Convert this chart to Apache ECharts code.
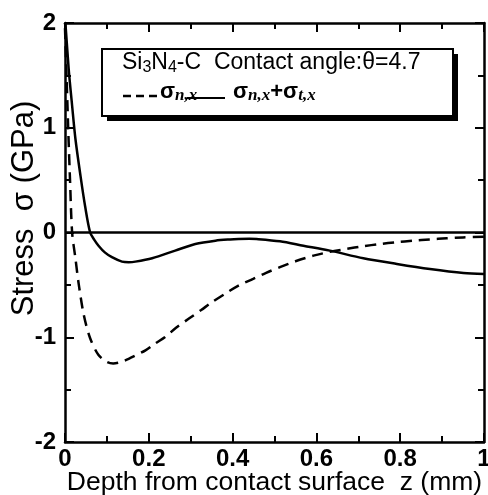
<!DOCTYPE html>
<html>
<head>
<meta charset="utf-8">
<script src="https://cdn.jsdelivr.net/npm/echarts@6/dist/echarts.min.js"></script>
<style>
html,body{margin:0;padding:0;background:#fff;}
#chart{width:488px;height:495px;}
</style>
</head>
<body>
<div id="chart"></div>
<script>
// depth z (mm) and sigma_n,x (GPa) - dashed curve
const zDash = [0.0, 0.004, 0.008, 0.012, 0.017, 0.025, 0.033, 0.045, 0.06, 0.08, 0.1, 0.115, 0.13, 0.144, 0.165, 0.192, 0.215, 0.239, 0.265, 0.295, 0.325, 0.351, 0.38, 0.414, 0.449, 0.48, 0.513, 0.55, 0.593, 0.632, 0.672, 0.71, 0.752, 0.79, 0.831, 0.87, 0.911, 0.95, 1.0];
const sigmaN = [1.95, 1.45, 0.95, 0.5, 0.0, -0.25, -0.5, -0.79, -1.01, -1.17, -1.235, -1.25, -1.24, -1.22, -1.18, -1.125, -1.06, -0.998, -0.91, -0.824, -0.74, -0.665, -0.59, -0.507, -0.443, -0.385, -0.331, -0.275, -0.221, -0.185, -0.157, -0.132, -0.11, -0.093, -0.078, -0.066, -0.056, -0.047, -0.04];
// depth z (mm) and sigma_n,x + sigma_t,x (GPa) - solid curve
const zSolid = [0.0, 0.002, 0.009, 0.017, 0.025, 0.037, 0.048, 0.06, 0.07, 0.08, 0.095, 0.112, 0.136, 0.152, 0.168, 0.208, 0.263, 0.311, 0.359, 0.394, 0.414, 0.44, 0.457, 0.513, 0.569, 0.632, 0.712, 0.792, 0.871, 0.951, 1.0];
const sigmaSum = [2.0, 1.94, 1.55, 1.21, 0.89, 0.54, 0.25, 0.0, -0.07, -0.126, -0.19, -0.236, -0.278, -0.283, -0.278, -0.246, -0.173, -0.11, -0.078, -0.066, -0.062, -0.06, -0.062, -0.084, -0.126, -0.173, -0.246, -0.3, -0.348, -0.386, -0.395];
const xTicks = [0, 0.2, 0.4, 0.6, 0.8, 1];
const yTicks = [-2, -1, 0, 1, 2];
const titleText = 'Si{sub|3}N{sub|4}-C  Contact angle:θ=4.7';
const legendText1 = '{s|σ}{sub|n,x}';
const legendText2 = '{s|σ}{sub|n,x}{s|+σ}{sub|t,x}';

const chart = echarts.init(document.getElementById('chart'));
const axisCommon = {
  axisLine: {show: true, onZero: false, lineStyle: {color: '#000', width: 2.5}},
  axisTick: {show: true, inside: true, length: 9, lineStyle: {color: '#000', width: 2}},
  minorTick: {show: true, splitNumber: 2, length: 6, lineStyle: {color: '#000', width: 2}},
  splitLine: {show: false},
  minorSplitLine: {show: false}
};
const labelStyle = {color: '#000', fontFamily: 'Liberation Sans', fontWeight: 'bold', fontSize: 24};
const legendRich = {
  s: {fontFamily: 'Liberation Sans', fontWeight: 'bold', fontSize: 22, fill: '#000'},
  sub: {fontFamily: 'Liberation Serif', fontWeight: 'bold', fontStyle: 'italic', fontSize: 17, fill: '#000', padding: [8, 0, 0, 0]}
};

chart.setOption({
  animation: false,
  backgroundColor: '#fff',
  grid: {left: 65, right: 4, top: 23, bottom: 53, containLabel: false, outerBoundsMode: 'none'},
  xAxis: [
    Object.assign({
      type: 'value', min: 0, max: 1, interval: 0.2, position: 'bottom',
      axisLabel: {show: true, margin: 5, ...labelStyle, formatter: v => String(v)},
      name: 'Depth from contact surface  z (mm)', nameLocation: 'middle', nameGap: 27, nameMoveOverlap: false,
      nameTextStyle: {color: '#000', fontFamily: 'Liberation Sans', fontSize: 26.5, fontWeight: 'normal'}
    }, axisCommon),
    Object.assign({
      type: 'value', min: 0, max: 1, interval: 0.2, position: 'top',
      axisLabel: {show: false}
    }, axisCommon)
  ],
  yAxis: [
    Object.assign({
      type: 'value', min: -2, max: 2, interval: 1, position: 'left',
      axisLabel: {show: true, margin: 9, ...labelStyle},
      name: 'Stress  σ (GPa)', nameLocation: 'middle', nameGap: 25, nameMoveOverlap: false,
      nameTextStyle: {color: '#000', fontFamily: 'Liberation Sans', fontSize: 31, fontWeight: 'normal', padding: [0, 0, 0, 48]}
    }, axisCommon),
    Object.assign({
      type: 'value', min: -2, max: 2, interval: 1, position: 'right',
      axisLabel: {show: false}
    }, axisCommon)
  ],
  graphic: [
    {type: 'rect', z: 1, shape: {x: 107, y: 54, width: 351, height: 67}, style: {fill: '#000'}},
    {type: 'rect', z: 2, shape: {x: 102, y: 49, width: 351, height: 67}, style: {fill: '#fff', stroke: '#000', lineWidth: 2}},
    {type: 'text', z: 3, left: 122, top: 51, style: {
      text: titleText,
      rich: {sub: {fontFamily: 'Liberation Sans', fontSize: 16, fill: '#000', padding: [10, 0, 0, 0]}},
      font: '23px "Liberation Sans"', fill: '#000'
    }},
    {type: 'line', z: 3, shape: {x1: 123, y1: 96, x2: 159, y2: 96}, style: {stroke: '#000', lineWidth: 2.5, lineDash: [8, 5]}},
    {type: 'text', z: 3, left: 160, top: 81, style: {text: legendText1, rich: legendRich, fill: '#000'}},
    {type: 'line', z: 3, shape: {x1: 187, y1: 98, x2: 225, y2: 98}, style: {stroke: '#000', lineWidth: 2}},
    {type: 'text', z: 3, left: 233, top: 81, style: {text: legendText2, rich: legendRich, fill: '#000'}}
  ],
  series: [
    {
      name: 'σn,x', type: 'line', smooth: 0.3, symbol: 'none', z: 20,
      data: zDash.map((z, i) => [z, sigmaN[i]]),
      lineStyle: {color: '#000', width: 2.5, type: [11, 7]},
      itemStyle: {color: '#000'}
    },
    {
      name: 'σn,x+σt,x', type: 'line', smooth: 0.3, symbol: 'none', z: 20,
      data: zSolid.map((z, i) => [z, sigmaSum[i]]),
      lineStyle: {color: '#000', width: 2.5, type: 'solid'},
      itemStyle: {color: '#000'},
      markLine: {silent: true, symbol: 'none', label: {show: false},
        lineStyle: {color: '#000', width: 2.5, type: 'solid'},
        data: [{yAxis: 0}]}
    }
  ]
});
</script>
</body>
</html>
